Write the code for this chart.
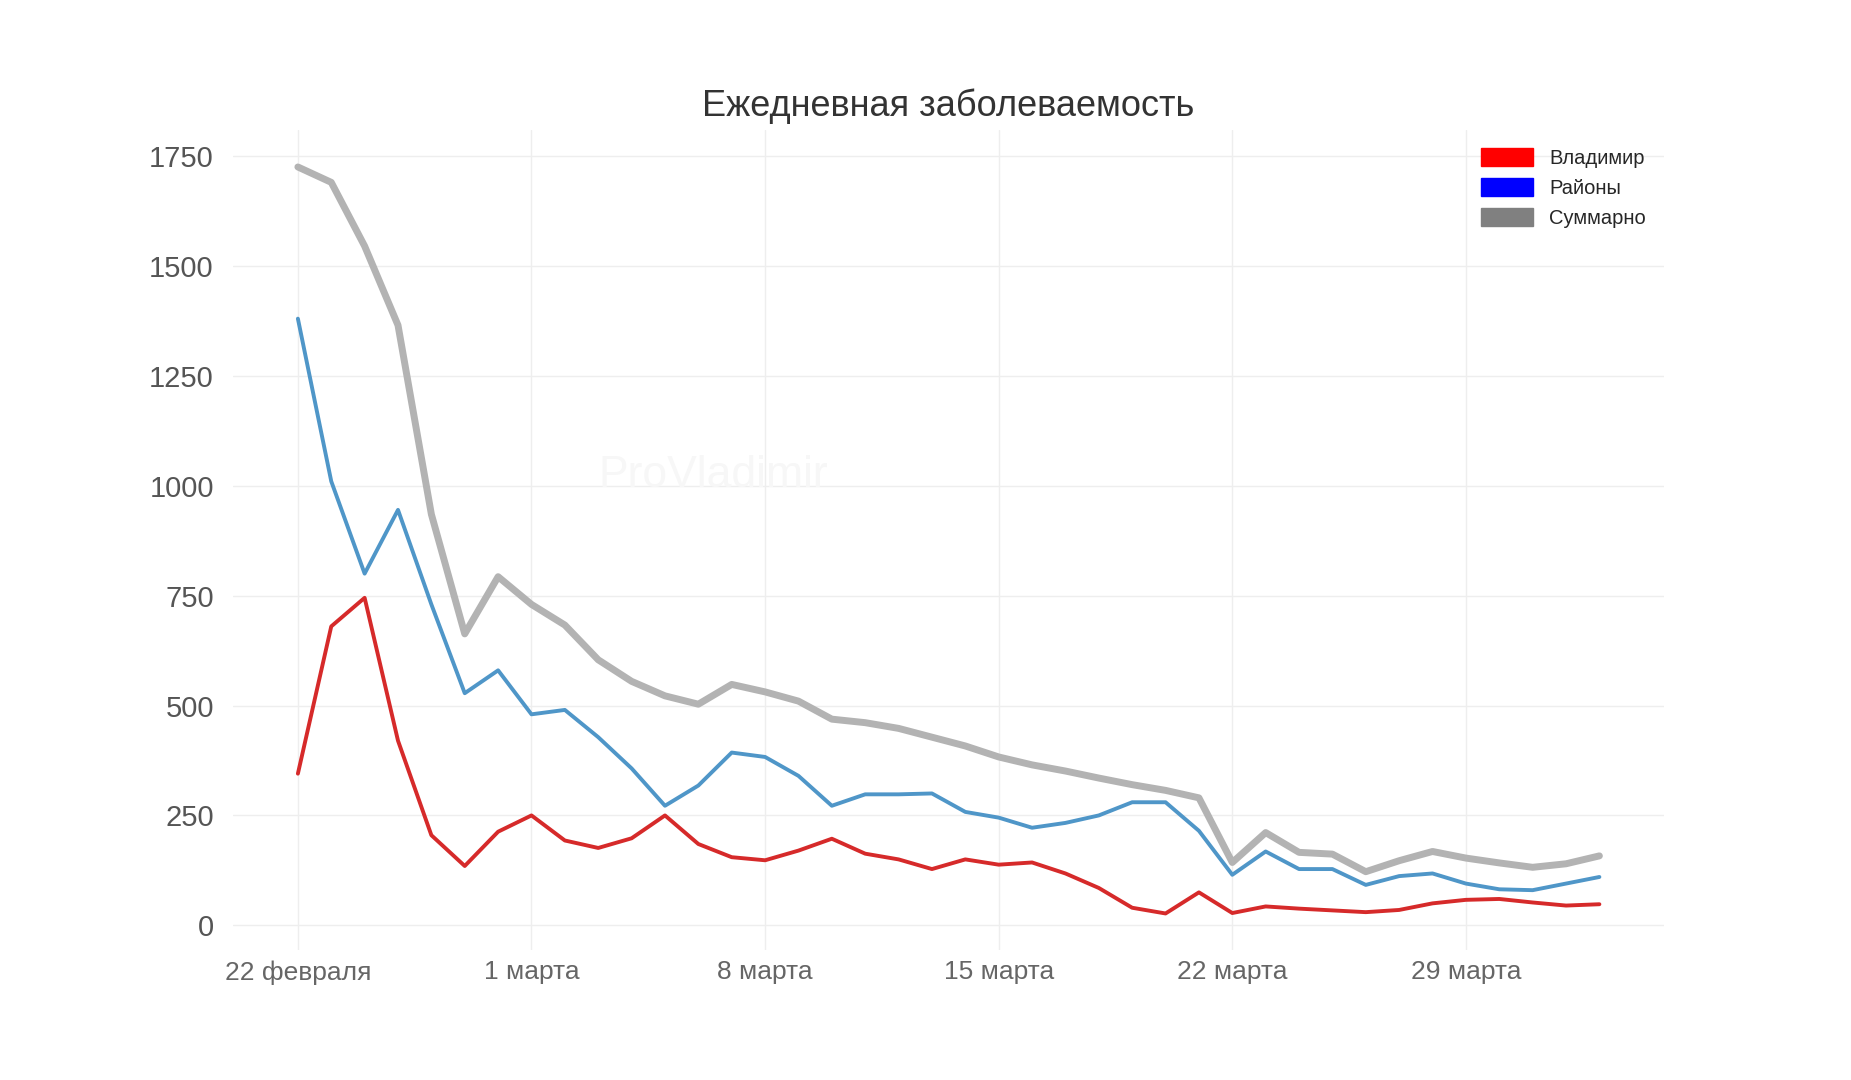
import numpy as np, pandas as pd, seaborn as sns, matplotlib
matplotlib.use("Agg")
import matplotlib.pyplot as plt
from matplotlib.patches import Patch

dates = pd.date_range("2021-02-22", periods=40, freq="D")
vladimir = [345,680,745,420,205,135,213,250,193,176,198,250,185,155,148,170,197,163,150,128,150,138,143,118,85,40,27,75,28,43,38,34,30,35,50,58,60,52,45,48]
rayony = [1380,1010,800,945,730,528,580,480,490,428,357,272,318,393,383,340,272,298,298,300,258,245,222,233,250,280,280,215,115,168,128,128,92,112,118,95,82,80,95,110]
total = [a+b for a, b in zip(vladimir, rayony)]
tick_dates = pd.to_datetime(["2021-02-22","2021-03-01","2021-03-08","2021-03-15","2021-03-22","2021-03-29"])
tick_labels = ["22 февраля","1 марта","8 марта","15 марта","22 марта","29 марта"]

df = pd.DataFrame({"date": dates, "Владимир": vladimir, "Районы": rayony, "Суммарно": total})
sns.set_style("white")
plt.rcParams["font.family"] = "Liberation Sans"
fig = plt.figure(figsize=(18.51, 10.8), dpi=100)
ax = fig.add_axes([0.126, 0.12, 0.773, 0.76])
sns.lineplot(data=df, x="date", y="Суммарно", color="#b3b3b3", linewidth=5, ax=ax)
sns.lineplot(data=df, x="date", y="Районы", color="#4f96c8", linewidth=2.8, ax=ax)
sns.lineplot(data=df, x="date", y="Владимир", color="#d62a2a", linewidth=2.8, ax=ax)
ax.set_xlim(pd.Timestamp("2021-02-20 01:30"), pd.Timestamp("2021-04-03 22:30"))
ax.set_ylim(-57, 1810)
ax.set_yticks([0,250,500,750,1000,1250,1500,1750])
ax.set_xticks(tick_dates)
ax.set_xticklabels(tick_labels)
ax.tick_params(axis="both", labelsize=21, colors="#555555", length=0)
ax.tick_params(axis="y", pad=14)
ax.tick_params(axis="x", labelsize=19, pad=7, colors="#666666")
ax.set_xlabel(""); ax.set_ylabel("")
ax.grid(True, color="#eeeeee", linewidth=1)
for s in ax.spines.values():
    s.set_visible(False)
ax.set_title("Ежедневная заболеваемость", fontsize=26, color="#333333", pad=10)
ax.text(0.255, 0.565, "ProVladimir", transform=ax.transAxes, fontsize=32, color="#f7f7f7")
handles = [Patch(color="red", label="Владимир"), Patch(color="blue", label="Районы"), Patch(color="gray", label="Суммарно")]
ax.legend(handles=handles, loc="upper right", frameon=False, fontsize=14.5, handlelength=2.6, handleheight=1.0)
fig.savefig("out.png", dpi=100, facecolor="white")
